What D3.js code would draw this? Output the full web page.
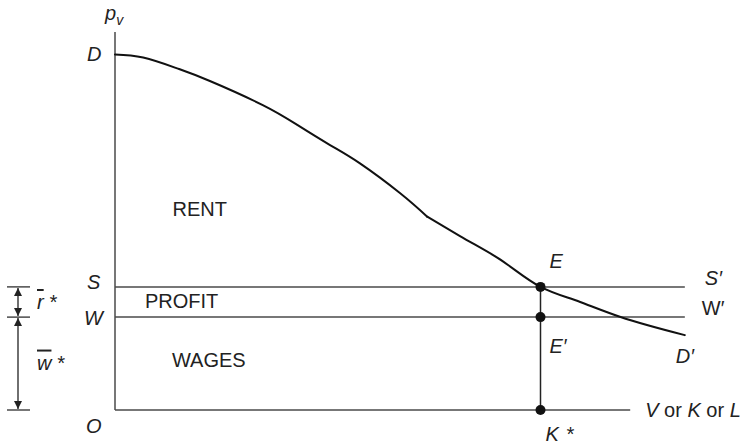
<!DOCTYPE html>
<html>
<head>
<meta charset="utf-8">
<script src="https://cdn.jsdelivr.net/npm/d3@7"></script>
<style>
  html, body { margin: 0; padding: 0; background: #fff; }
  svg { display: block; font-family: "Liberation Sans", Arial, sans-serif; }
  .it { font-style: italic; }
</style>
</head>
<body>
<div id="chart"></div>
<script>
// demand curve D-D' (quantity of V, price p_v)
const demandQ = [0, 4.9, 10.8, 16.5, 25.7, 31.7, 37.4, 42.6, 49.6, 54.3, 60.0, 66.4, 74.0, 80.9, 87.8, 99.1];
const demandP = [98.75, 97.9, 94.9, 91.4, 84.7, 79.2, 73.6, 68.5, 60.2, 53.7, 48.3, 42.4, 34.2, 30.0, 25.9, 20.8];
const kinkIndex = 9; // the drawn curve has a slight corner here

// equilibrium and price levels
const kStar = 74.0;       // K*
const supplyLevel = 34.2; // S
const wageLevel = 25.8;   // W
const yAxisTop = 105;
const xAxisEnd = 89.6;
const lineEnd = 99.1;

const regionLabels = [
  { text: 'RENT', q: 10, p: 54 },
  { text: 'PROFIT', q: 5.2, p: 28.3 },
  { text: 'WAGES', q: 9.9, p: 12 }
];

const width = 746, height = 445;
const svg = d3.select('#chart').append('svg').attr('width', width).attr('height', height);

const x = d3.scaleLinear().domain([0, 100]).range([115, 690]);
const y = d3.scaleLinear().domain([0, 100]).range([410, 50]);

const ink = '#4a4a4a';
const fs = 20;

// axes
svg.append('line').attr('x1', x(0)).attr('x2', x(0)).attr('y1', y(0)).attr('y2', y(yAxisTop))
  .attr('stroke', ink).attr('stroke-width', 1.5);
svg.append('line').attr('x1', x(0)).attr('x2', x(xAxisEnd)).attr('y1', y(0)).attr('y2', y(0))
  .attr('stroke', ink).attr('stroke-width', 1.5);

// S-S' and W-W'
[supplyLevel, wageLevel].forEach(v => {
  svg.append('line').attr('x1', x(0)).attr('x2', x(lineEnd)).attr('y1', y(v)).attr('y2', y(v))
    .attr('stroke', ink).attr('stroke-width', 1.5);
});

// vertical at K*
svg.append('line').attr('x1', x(kStar)).attr('x2', x(kStar)).attr('y1', y(supplyLevel)).attr('y2', y(0))
  .attr('stroke', '#222').attr('stroke-width', 1.5);

// demand curve, in two smooth pieces joined at the corner
const demand = demandQ.map((q, i) => ({ q, p: demandP[i] }));
const upper = d3.line().x(d => x(d.q)).y(d => y(d.p)).curve(d3.curveNatural);
const lower = d3.line().x(d => x(d.q)).y(d => y(d.p)).curve(d3.curveMonotoneX);
[[demand.slice(0, kinkIndex + 1), upper], [demand.slice(kinkIndex), lower]].forEach(([seg, gen]) => {
  svg.append('path').datum(seg)
    .attr('fill', 'none').attr('stroke', '#111').attr('stroke-width', 2)
    .attr('stroke-linejoin', 'round').attr('stroke-linecap', 'round')
    .attr('d', gen);
});

// points E, E', K*
[supplyLevel, wageLevel, 0].forEach(v => {
  svg.append('circle').attr('cx', x(kStar)).attr('cy', y(v)).attr('r', 5).attr('fill', '#111');
});

// region labels
regionLabels.forEach(l => {
  svg.append('text').attr('x', x(l.q)).attr('y', y(l.p)).attr('font-size', fs).attr('fill', '#222').text(l.text);
});

// italic point labels
function label(txt, px, py, cls, anchor) {
  return svg.append('text').attr('x', px).attr('y', py).attr('font-size', fs).attr('fill', '#222')
    .attr('class', cls || 'it').attr('text-anchor', anchor || 'start').text(txt);
}
label('D', x(0) - 28, y(demandP[0]) + 6);
label('S', x(0) - 28, y(supplyLevel) + 2);
label('W', x(0) - 31, y(wageLevel) + 8);
label('O', x(0) - 29, y(0) + 23);
label('E', x(kStar) + 9, y(supplyLevel) - 19);
label("E\u2032", x(kStar) + 9, y(wageLevel) + 36);
label("D\u2032", x(lineEnd) - 9, y(demandP[demandP.length - 1]) + 28);
label("S\u2032", x(lineEnd) + 20, y(supplyLevel) - 2);
label("W\u2032", x(lineEnd) + 17, y(wageLevel) - 2, 'up');
const ks = label('K', x(kStar) + 5, y(0) + 31);
ks.append('tspan').attr('dx', 7).text('*');

// p_v
const pv = svg.append('text').attr('x', x(0) - 10).attr('y', 20).attr('font-size', fs).attr('fill', '#222').attr('class', 'it');
pv.append('tspan').text('p');
pv.append('tspan').attr('font-size', 14).attr('dy', 5).text('v');

// V or K or L
const ax = svg.append('text').attr('x', x(xAxisEnd) + 15).attr('y', y(0) + 7).attr('font-size', fs).attr('fill', '#222');
ax.append('tspan').attr('class', 'it').text('V');
ax.append('tspan').text(' or ');
ax.append('tspan').attr('class', 'it').text('K');
ax.append('tspan').text(' or ');
ax.append('tspan').attr('class', 'it').text('L');

// bracket annotation on the left
const defs = svg.append('defs');
defs.append('marker').attr('id', 'ah').attr('viewBox', '0 0 10 10').attr('refX', 10).attr('refY', 5)
  .attr('markerWidth', 10).attr('markerHeight', 8).attr('markerUnits', 'userSpaceOnUse').attr('orient', 'auto-start-reverse')
  .append('path').attr('d', 'M0,0L10,5L0,10Z').attr('fill', '#222');
const bx = 18;
[supplyLevel, wageLevel, 0].forEach(v => {
  svg.append('line').attr('x1', 7).attr('x2', 30).attr('y1', y(v)).attr('y2', y(v)).attr('stroke', ink).attr('stroke-width', 1.5);
});
[[supplyLevel, wageLevel], [wageLevel, 0]].forEach(([a, b]) => {
  svg.append('line').attr('x1', bx).attr('x2', bx).attr('y1', y(a) + 1).attr('y2', y(b) - 1)
    .attr('stroke', '#222').attr('stroke-width', 1.3)
    .attr('marker-start', 'url(#ah)').attr('marker-end', 'url(#ah)');
});
function barLabel(letter, py) {
  const t = svg.append('text').attr('x', 37).attr('y', py).attr('font-size', fs).attr('fill', '#222');
  t.append('tspan').attr('class', 'it').style('text-decoration', 'overline').text(letter);
  t.append('tspan').attr('class', 'it').attr('dx', 5).text('*');
}
barLabel('r', y((supplyLevel + wageLevel) / 2) + 7);
barLabel('w', y(wageLevel / 2) + 6);
</script>
</body>
</html>
